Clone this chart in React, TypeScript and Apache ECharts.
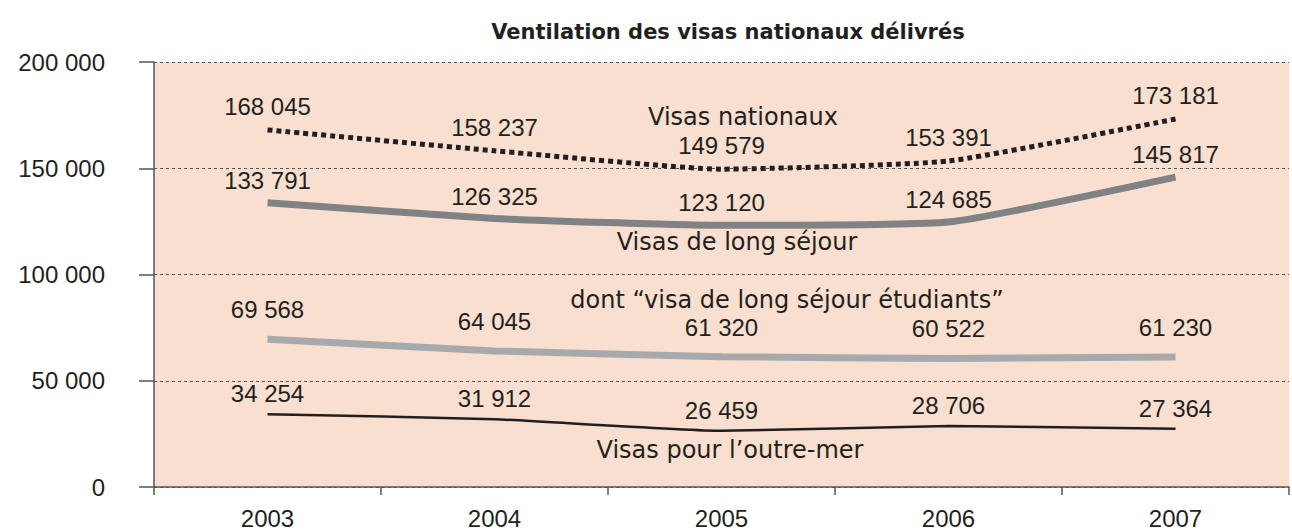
import React, { useEffect, useRef } from "react";
import * as echarts from "echarts";

const years = ["2003", "2004", "2005", "2006", "2007"];
const visasNationaux = [168045, 158237, 149579, 153391, 173181];
const longSejour = [133791, 126325, 123120, 124685, 145817];
const etudiants = [69568, 64045, 61320, 60522, 61230];
const outreMer = [34254, 31912, 26459, 28706, 27364];
const yTicks = [0, 50000, 100000, 150000, 200000];

const NUM_FONT = "Liberation Sans";
const TXT_FONT = "DejaVu Sans";
const fmt = (v: number) => String(v).replace(/\B(?=(\d{3})+(?!\d))/g, " ");

export default function App() {
  const ref = useRef<HTMLDivElement>(null);
  useEffect(() => {
    document.body.style.margin = "0";
    if (!ref.current) return;
    const chart = echarts.init(ref.current, undefined, { renderer: "svg" });
    const labelBase = {
      show: true,
      position: "top" as const,
      color: "#231f20",
      fontFamily: NUM_FONT,
      fontSize: 24,
      formatter: (p: any) => fmt(p.value),
    };
    const hiddenSymbol = {
      symbol: "circle",
      symbolSize: 1,
      showSymbol: true,
      itemStyle: { color: "rgba(0,0,0,0)", borderWidth: 0 },
    };
    const annot = (text: string, x: number, y: number) => ({
      type: "text",
      x,
      y,
      style: {
        text,
        align: "center",
        verticalAlign: "middle",
        fill: "#231f20",
        font: `24px "${TXT_FONT}"`,
      },
    });
    chart.setOption({
      animation: false,
      backgroundColor: "#ffffff",
      title: {
        text: "Ventilation des visas nationaux délivrés",
        left: 723,
        top: 16,
        textAlign: "center",
        textStyle: { fontFamily: TXT_FONT, fontSize: 21, fontWeight: "bold", color: "#231f20" },
      },
      grid: {
        left: 154,
        right: 3,
        top: 62,
        bottom: 42,
        show: true,
        backgroundColor: "#f8dfcf",
        borderWidth: 0,
      },
      xAxis: {
        type: "category",
        data: years,
        boundaryGap: true,
        axisLine: { lineStyle: { color: "#555", width: 1.5 } },
        axisTick: { show: true, length: 8, interval: 0, lineStyle: { color: "#555", width: 1.5 } },
        axisLabel: { color: "#231f20", fontFamily: NUM_FONT, fontSize: 24, margin: 19 },
      },
      yAxis: {
        type: "value",
        min: yTicks[0],
        max: yTicks[yTicks.length - 1],
        interval: 50000,
        axisLine: { show: true, lineStyle: { color: "#555", width: 1.5 } },
        axisTick: { show: true, length: 15, lineStyle: { color: "#555", width: 1.5 } },
        axisLabel: {
          color: "#231f20",
          fontFamily: NUM_FONT,
          fontSize: 24,
          margin: 49,
          formatter: (v: number) => fmt(v),
        },
        splitLine: { show: true, lineStyle: { color: "#555", width: 1, type: [3, 3] } },
      },
      series: [
        {
          name: "Visas nationaux",
          type: "line",
          data: visasNationaux,
          smooth: 0.15,
          ...hiddenSymbol,
          lineStyle: { color: "#231f20", width: 5, type: [5, 4], cap: "butt" },
          label: { ...labelBase, distance: 11 },
        },
        {
          name: "Visas de long séjour",
          type: "line",
          data: longSejour,
          smooth: 0.15,
          ...hiddenSymbol,
          lineStyle: { color: "#808285", width: 7, cap: "butt" },
          label: { ...labelBase, distance: 10 },
        },
        {
          name: "dont visa de long séjour étudiants",
          type: "line",
          data: etudiants,
          smooth: 0.15,
          ...hiddenSymbol,
          lineStyle: { color: "#a7a9ac", width: 7, cap: "butt" },
          label: { ...labelBase, distance: 17 },
        },
        {
          name: "Visas pour l'outre-mer",
          type: "line",
          data: outreMer,
          smooth: 0.15,
          ...hiddenSymbol,
          lineStyle: { color: "#231f20", width: 2.5, cap: "butt" },
          label: { ...labelBase, distance: 8 },
        },
      ],
      graphic: [
        annot("Visas nationaux", 743, 117),
        annot("Visas de long séjour", 737, 242),
        annot("dont “visa de long séjour étudiants”", 787, 300),
        annot("Visas pour l’outre-mer", 730, 450),
      ],
    });
    return () => chart.dispose();
  }, []);
  return <div ref={ref} style={{ width: 1292, height: 530 }} />;
}
